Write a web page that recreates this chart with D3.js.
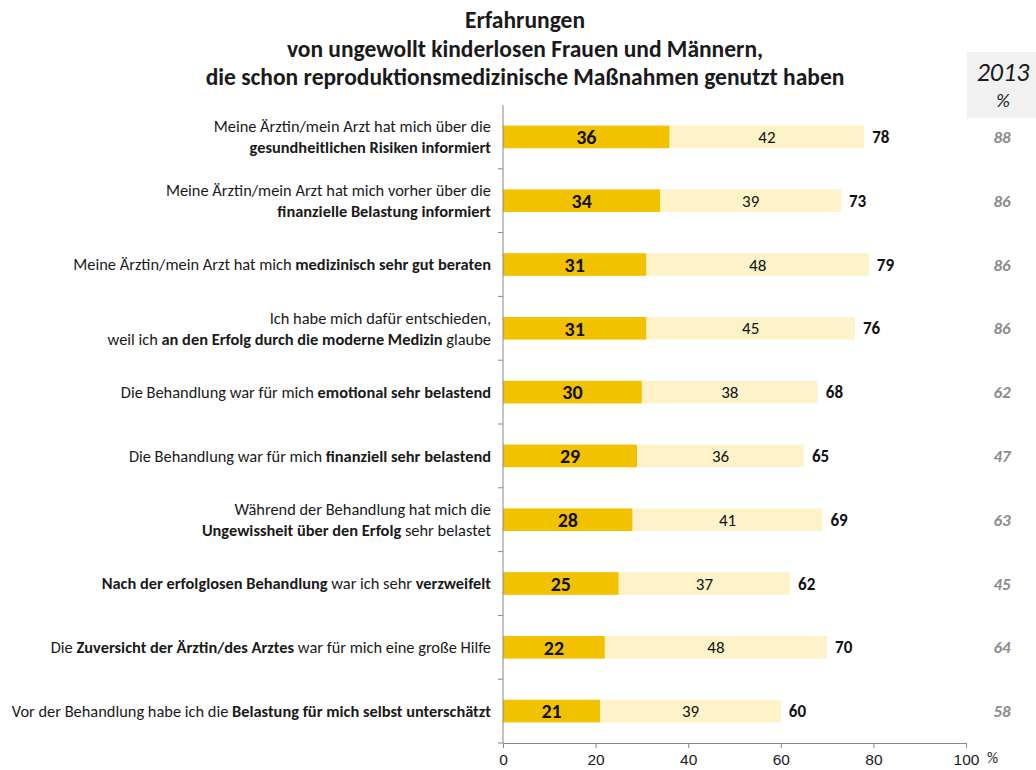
<!DOCTYPE html>
<html><head><meta charset="utf-8">
<script src="https://cdn.jsdelivr.net/npm/d3@7"></script>
<style>
body{margin:0;background:#fff;}
svg{display:block;font-family:Carlito,Calibri,Lato,"Open Sans",sans-serif;}
</style></head>
<body><svg id="c" width="1036" height="770"></svg>
<script>
const titleLines = ["Erfahrungen","von ungewollt kinderlosen Frauen und Männern,","die schon reproduktionsmedizinische Maßnahmen genutzt haben"];
// labels: lines separated by "|", bold parts wrapped in **
const categories = [
  "Meine Ärztin/mein Arzt hat mich über die|**gesundheitlichen Risiken informiert**",
  "Meine Ärztin/mein Arzt hat mich vorher über die|**finanzielle Belastung informiert**",
  "Meine Ärztin/mein Arzt hat mich **medizinisch sehr gut beraten**",
  "Ich habe mich dafür entschieden,|weil ich **an den Erfolg durch die moderne Medizin** glaube",
  "Die Behandlung war für mich **emotional sehr belastend**",
  "Die Behandlung war für mich **finanziell sehr belastend**",
  "Während der Behandlung hat mich die|**Ungewissheit über den Erfolg** sehr belastet",
  "**Nach der erfolglosen Behandlung** war ich sehr **verzweifelt**",
  "Die **Zuversicht der Ärztin/des Arztes** war für mich eine große Hilfe",
  "Vor der Behandlung habe ich die **Belastung für mich selbst unterschätzt**"
];
const strong = [36,34,31,31,30,29,28,25,22,21];
const partly = [42,39,48,45,38,36,41,37,48,39];
const totals = [78,73,79,76,68,65,69,62,70,60];
const values2013 = [88,86,86,86,62,47,63,45,64,58];
const xTicks = [0,20,40,60,80,100];

const svg = d3.select("#c");
const x = d3.scaleLinear().domain([0,100]).range([503,966]);
const y = d3.scaleBand().domain(d3.range(categories.length)).range([105,743]).paddingInner(0.645).paddingOuter(0.3225);

// title
svg.append("g").selectAll("text").data(titleLines).join("text")
  .attr("x",525).attr("y",(d,i)=>28+i*28.5).attr("text-anchor","middle")
  .attr("font-weight","bold").attr("font-size",23.5).attr("fill","#1a1a1a").text(d=>d);

// 2013 header box
svg.append("rect").attr("x",967).attr("y",52).attr("width",69).attr("height",66).attr("fill","#f1f1f1");
svg.append("text").attr("x",1003).attr("y",81).attr("text-anchor","middle").attr("font-style","italic")
  .attr("font-size",26).attr("fill","#1a1a1a").text("2013");
svg.append("text").attr("x",1003).attr("y",107).attr("text-anchor","middle").attr("font-style","italic")
  .attr("font-size",19).attr("fill","#1a1a1a").text("%");

// bars
const rows = svg.append("g").selectAll("g").data(categories.map((c,i)=>i)).join("g");
rows.append("rect").attr("x",x(0)).attr("y",i=>y(i)).attr("height",y.bandwidth())
  .attr("width",i=>x(strong[i])-x(0)).attr("fill","#f2c200");
rows.append("rect").attr("x",i=>x(strong[i])).attr("y",i=>y(i)).attr("height",y.bandwidth())
  .attr("width",i=>x(strong[i]+partly[i])-x(strong[i])).attr("fill","#fdf2c8");
const cy = i=>y(i)+y.bandwidth()/2;
rows.append("text").attr("x",i=>x(strong[i]/2)).attr("y",cy).attr("dy","0.36em").attr("text-anchor","middle")
  .attr("font-weight","bold").attr("font-size",20).attr("fill","#111").text(i=>strong[i]);
rows.append("text").attr("x",i=>x(strong[i]+partly[i]/2)).attr("y",cy).attr("dy","0.36em").attr("text-anchor","middle")
  .attr("font-size",17).attr("fill","#111").text(i=>partly[i]);
rows.append("text").attr("x",i=>x(totals[i])+8).attr("y",cy).attr("dy","0.36em").attr("text-anchor","start")
  .attr("font-weight","bold").attr("font-size",17).attr("fill","#111").text(i=>totals[i]);
rows.append("text").attr("x",1002).attr("y",cy).attr("dy","0.36em").attr("text-anchor","middle")
  .attr("font-style","italic").attr("font-weight","bold").attr("font-size",17).attr("fill","#8c8c8c").text(i=>values2013[i]);

// category labels
rows.each(function(i){
  const lines = categories[i].split("|");
  const g = d3.select(this);
  const lh = 21;
  lines.forEach((ln,k)=>{
    const t = g.append("text").attr("x",491).attr("text-anchor","end")
      .attr("y",cy(i)+(k-(lines.length-1)/2)*lh).attr("dy","0.36em")
      .attr("font-size",16.4).attr("fill","#1a1a1a");
    ln.split("**").forEach((part,j)=>{
      if(part) t.append("tspan").attr("font-weight",j%2?"bold":"normal").text(part);
    });
  });
});

// axes
const xa = svg.append("g").attr("transform","translate(0,743)")
  .call(d3.axisBottom(x).tickValues(xTicks).tickSize(5).tickSizeOuter(0).tickPadding(6));
xa.select(".domain").attr("stroke","#888");
xa.selectAll(".tick line").attr("stroke","#888");
xa.selectAll(".tick text").attr("font-size",15.5).attr("fill","#1a1a1a").attr("font-family",null);
svg.append("text").attr("x",987).attr("y",758).attr("dy","0.32em").attr("font-size",15.5).attr("fill","#1a1a1a").text("%");

// y axis line with boundary ticks
const bounds = d3.range(categories.length+1).map(i=>y.range()[0]+i*y.step());
svg.append("line").attr("x1",x(0)).attr("x2",x(0)).attr("y1",bounds[0]).attr("y2",743).attr("stroke","#888");
svg.append("g").selectAll("line").data(bounds.slice(1)).join("line")
  .attr("x1",x(0)-5).attr("x2",x(0)).attr("y1",d=>d).attr("y2",d=>d).attr("stroke","#888");
</script></body></html>
